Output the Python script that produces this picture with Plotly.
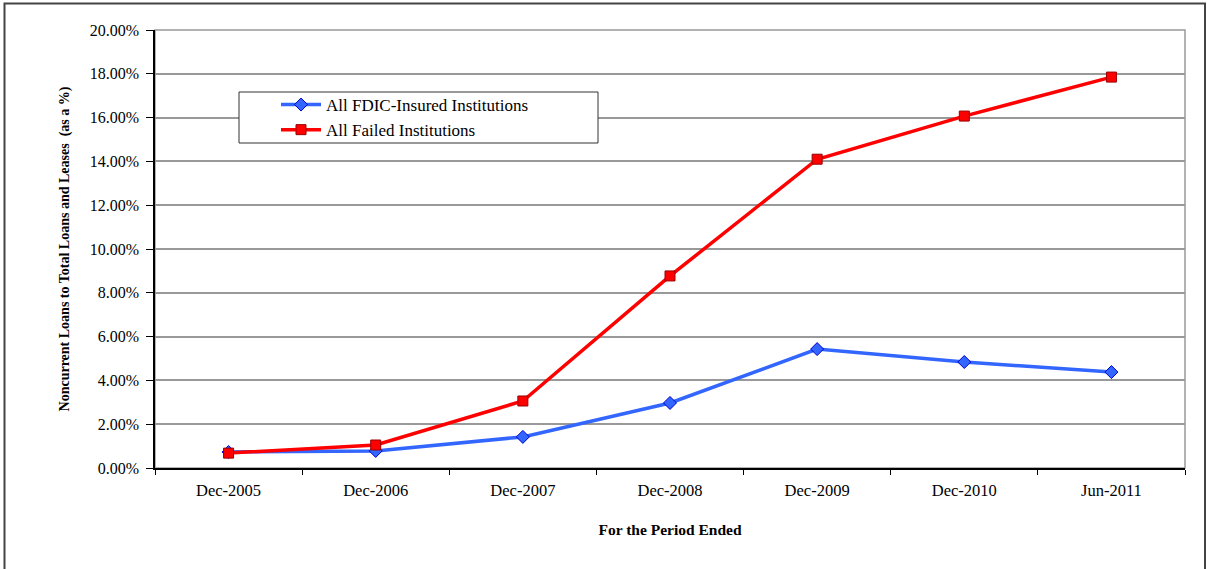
import plotly.graph_objects as go

periods = ["Dec-2005", "Dec-2006", "Dec-2007", "Dec-2008", "Dec-2009", "Dec-2010", "Jun-2011"]
fdic_insured = [0.73, 0.78, 1.42, 2.97, 5.43, 4.84, 4.38]
failed = [0.68, 1.05, 3.06, 8.77, 14.10, 16.07, 17.85]
y_ticks = [0, 2, 4, 6, 8, 10, 12, 14, 16, 18, 20]
y_tick_text = [f"{v:.2f}%" for v in y_ticks]

W, H = 1207, 569
L, R, T, B = 155, 1185, 30, 468
pw, ph = R - L, B - T

def px(x):
    return (x - L) / pw

def py(y):
    return (B - y) / ph

serif = "Liberation Serif, Times New Roman, serif"

fig = go.Figure()
fig.add_trace(go.Scatter(
    x=periods, y=fdic_insured, name="All FDIC-Insured Institutions",
    mode="lines+markers",
    line=dict(color="#3366FF", width=3.5),
    marker=dict(symbol="diamond", size=10, color="#3366FF",
                line=dict(color="#0000CC", width=1)),
))
fig.add_trace(go.Scatter(
    x=periods, y=failed, name="All Failed Institutions",
    mode="lines+markers",
    line=dict(color="#FF0000", width=3.5),
    marker=dict(symbol="square", size=10, color="#FF0000",
                line=dict(color="#990000", width=1)),
))

shapes = [
    # outer chart frame
    dict(type="rect", xref="paper", yref="paper",
         x0=px(4.5), x1=px(1205), y0=py(580), y1=py(3.5),
         line=dict(color="#444444", width=2), fillcolor="rgba(0,0,0,0)", layer="below"),
    # plot area border
    dict(type="rect", xref="paper", yref="paper",
         x0=0, x1=1, y0=0, y1=1,
         line=dict(color="#999999", width=1.5), layer="below"),
    # legend box
    dict(type="rect", xref="paper", yref="paper",
         x0=px(239), x1=px(598), y0=py(143), y1=py(92),
         line=dict(color="#333333", width=1), fillcolor="white", layer="above"),
]

fig.update_layout(
    width=W, height=H,
    margin=dict(l=L, r=W - R, t=T, b=H - B),
    paper_bgcolor="white", plot_bgcolor="white",
    font=dict(family=serif, color="black", size=14),
    showlegend=True,
    legend=dict(x=px(276), y=py(87), xanchor="left", yanchor="top",
                bgcolor="rgba(0,0,0,0)", borderwidth=0,
                font=dict(family=serif, size=17), tracegroupgap=0,
                itemwidth=40),
    shapes=shapes,
    xaxis=dict(
        type="category", range=[-0.5, 6.5],
        showgrid=False, showline=True, linecolor="black", linewidth=1.5,
        ticks="outside", tickson="boundaries", ticklen=5, tickcolor="black",
        ticklabelstandoff=6,
        tickfont=dict(family=serif, size=16.5),
        title=dict(text="<b>For the Period Ended</b>", font=dict(family=serif, size=15.5), standoff=26),
        zeroline=False,
    ),
    yaxis=dict(
        range=[0, 20], tickvals=y_ticks, ticktext=y_tick_text,
        showgrid=True, gridcolor="#999999", gridwidth=1.5,
        showline=True, linecolor="black", linewidth=1.5,
        ticks="outside", ticklen=7, tickcolor="black",
        ticklabelstandoff=4,
        tickfont=dict(family=serif, size=16),
        title=dict(text="<b>Noncurrent Loans to Total Loans and Leases  (as a %)</b>",
                   font=dict(family=serif, size=14), standoff=17),
        zeroline=False,
    ),
)

fig.write_html("out.html")
